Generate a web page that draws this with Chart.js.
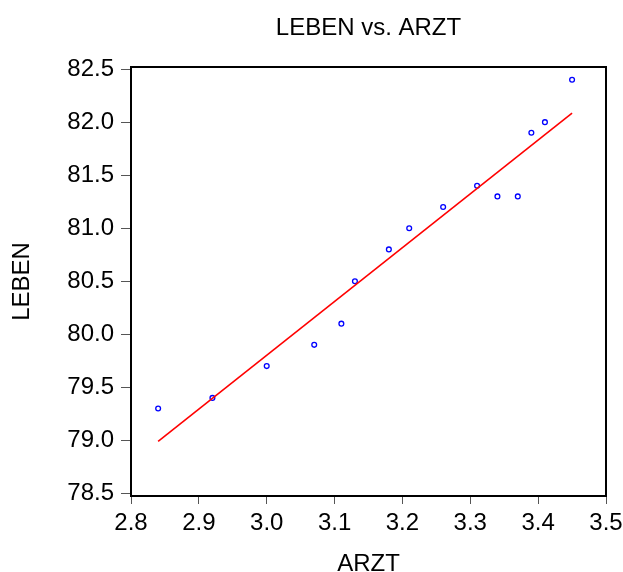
<!DOCTYPE html>
<html>
<head>
<meta charset="utf-8">
<script src="https://cdn.jsdelivr.net/npm/chart.js@4.4.1/dist/chart.umd.min.js"></script>
<style>
  html, body { margin: 0; padding: 0; background: #fff; }
  #wrap { width: 623px; height: 572px; position: relative; }
</style>
</head>
<body>
<div id="wrap"><canvas id="c" width="623" height="572"></canvas></div>
<script>
// Data
const arzt  = [2.84, 2.92, 3.00, 3.07, 3.11, 3.13, 3.18, 3.21, 3.26, 3.31, 3.34, 3.37, 3.39, 3.41, 3.45];
const leben = [79.3, 79.4, 79.7, 79.9, 80.1, 80.5, 80.8, 81.0, 81.2, 81.4, 81.3, 81.3, 81.9, 82.0, 82.4];
const xTicks = [2.8, 2.9, 3.0, 3.1, 3.2, 3.3, 3.4, 3.5];
const yTicks = [78.5, 79.0, 79.5, 80.0, 80.5, 81.0, 81.5, 82.0, 82.5];
const chartTitle = 'LEBEN vs. ARZT';
const xTitle = 'ARZT';
const yTitle = 'LEBEN';

// Least-squares fit line (computed from the data)
const n = arzt.length;
const mx = arzt.reduce((a, b) => a + b, 0) / n;
const my = leben.reduce((a, b) => a + b, 0) / n;
let sxy = 0, sxx = 0;
for (let i = 0; i < n; i++) { sxy += (arzt[i] - mx) * (leben[i] - my); sxx += (arzt[i] - mx) ** 2; }
const slope = sxy / sxx, icpt = my - slope * mx;
const xMin = Math.min(...arzt), xMax = Math.max(...arzt);
const fitPts = [{x: xMin, y: icpt + slope * xMin}, {x: xMax, y: icpt + slope * xMax}];

const FONT = '"Liberation Sans", Arial, Helvetica, sans-serif';
Chart.defaults.font.family = FONT;
Chart.defaults.color = '#000';

const framePlugin = {
  id: 'frame',
  afterDraw(chart) {
    const {ctx, chartArea: a} = chart;
    ctx.save();
    ctx.strokeStyle = '#000';
    ctx.lineWidth = 2;
    ctx.strokeRect(a.left, a.top, a.right - a.left, a.bottom - a.top);
    ctx.fillStyle = '#000';
    ctx.font = '24px ' + FONT;
    ctx.textAlign = 'center';
    ctx.textBaseline = 'alphabetic';
    ctx.fillText(chartTitle, (a.left + a.right) / 2, 35);
    ctx.restore();
  }
};

new Chart(document.getElementById('c'), {
  type: 'scatter',
  data: {
    datasets: [
      {
        label: 'fit',
        data: fitPts,
        showLine: true,
        borderColor: '#ff0000',
        borderWidth: 1.6,
        pointRadius: 0,
        fill: false,
        order: 0
      },
      {
        label: 'LEBEN',
        data: arzt.map((x, i) => ({x, y: leben[i]})),
        showLine: false,
        pointStyle: 'circle',
        pointRadius: 2.4,
        pointBorderWidth: 1.3,
        borderColor: '#0000ff',
        backgroundColor: 'rgba(0,0,0,0)',
        order: 1
      }
    ]
  },
  options: {
    responsive: false,
    animation: false,
    devicePixelRatio: 1,
    layout: { autoPadding: false, padding: { top: 67, right: 17, left: 0, bottom: 0 } },
    plugins: { legend: { display: false }, tooltip: { enabled: false }, title: { display: false } },
    scales: {
      x: {
        type: 'linear',
        min: 2.8, max: 3.5,
        afterBuildTicks: s => { s.ticks = xTicks.map(v => ({value: v})); },
        afterFit: s => { s.height = 76; s.paddingLeft = 0; s.paddingRight = 0; },
        border: { display: false },
        grid: { drawOnChartArea: false, drawTicks: true, tickLength: 8, color: '#555', lineWidth: 1 },
        ticks: { font: { size: 24 }, padding: 5, maxRotation: 0, callback: v => v.toFixed(1) },
        title: { display: true, text: xTitle, font: { size: 24, lineHeight: 1 }, padding: { top: 0, bottom: -4 } }
      },
      y: {
        type: 'linear',
        min: 78.475, max: 82.52,
        afterBuildTicks: s => { s.ticks = yTicks.map(v => ({value: v})); },
        afterFit: s => { s.width = 131; s.paddingTop = 0; s.paddingBottom = 0; },
        border: { display: false },
        grid: { drawOnChartArea: false, drawTicks: true, tickLength: 10, color: '#555', lineWidth: 1 },
        ticks: { font: { size: 24 }, padding: 7, callback: v => v.toFixed(1) },
        title: { display: true, text: yTitle, font: { size: 24, lineHeight: 1 }, padding: { top: 10, bottom: 0 } }
      }
    }
  },
  plugins: [framePlugin]
});
</script>
</body>
</html>
